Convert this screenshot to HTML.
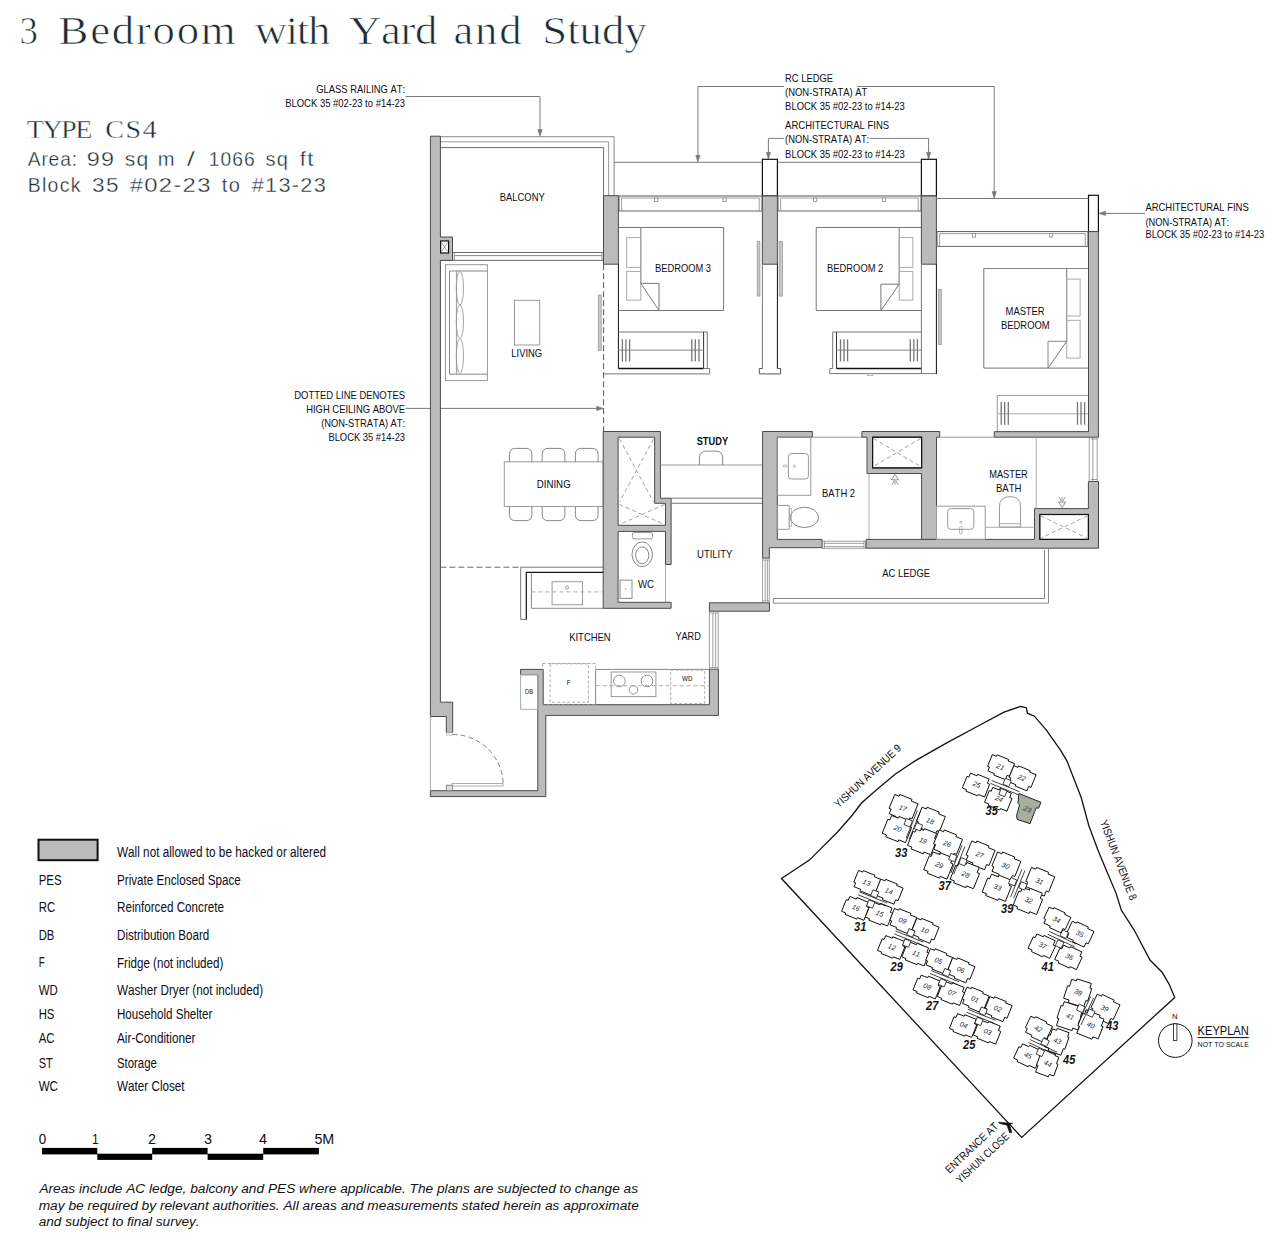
<!DOCTYPE html>
<html><head><meta charset="utf-8"><title>3 Bedroom with Yard and Study</title>
<style>
html,body{margin:0;padding:0;background:#fff;}
body{width:1283px;height:1253px;overflow:hidden;}
svg{display:block;}
text{font-kerning:none;}
</style></head>
<body>
<svg width="1283" height="1253" viewBox="0 0 1283 1253">
<rect x="0" y="0" width="1283" height="1253" fill="#ffffff"/>
<text x="19.5" y="44.2" font-family="Liberation Serif" font-size="40" textLength="18.4" lengthAdjust="spacingAndGlyphs" fill="#1c2c33" stroke="#fff" stroke-width="0.7">3</text>
<g transform="translate(58.60,44.20) scale(1.120,1)">
<text x="0.0" y="0.0" font-family="Liberation Serif" font-size="40" fill="#1c2c33" letter-spacing="1.54" stroke="#fff" stroke-width="0.7">Bedroom</text>
</g>
<g transform="translate(254.70,44.20) scale(1.120,1)">
<text x="0.0" y="0.0" font-family="Liberation Serif" font-size="40" fill="#1c2c33" letter-spacing="-1.18" stroke="#fff" stroke-width="0.7">with</text>
</g>
<g transform="translate(349.10,44.20) scale(1.120,1)">
<text x="0.0" y="0.0" font-family="Liberation Serif" font-size="40" fill="#1c2c33" letter-spacing="-0.38" stroke="#fff" stroke-width="0.7">Yard</text>
</g>
<g transform="translate(453.50,44.20) scale(1.120,1)">
<text x="0.0" y="0.0" font-family="Liberation Serif" font-size="40" fill="#1c2c33" letter-spacing="1.52" stroke="#fff" stroke-width="0.7">and</text>
</g>
<g transform="translate(542.20,44.20) scale(1.120,1)">
<text x="0.0" y="0.0" font-family="Liberation Serif" font-size="40" fill="#1c2c33" letter-spacing="0.03" stroke="#fff" stroke-width="0.7">Study</text>
</g>
<g transform="translate(26.80,138.10) scale(1.100,1)">
<text x="0.0" y="0.0" font-family="Liberation Serif" font-size="25.5" fill="#1c2c33" letter-spacing="-1.40" stroke="#fff" stroke-width="0.4">TYPE</text>
</g>
<g transform="translate(105.30,138.10) scale(1.100,1)">
<text x="0.0" y="0.0" font-family="Liberation Serif" font-size="25.5" fill="#1c2c33" letter-spacing="1.40" stroke="#fff" stroke-width="0.4">CS4</text>
</g>
<g transform="translate(27.70,165.60) scale(0.950,1)">
<text x="0.0" y="0.0" font-family="Liberation Sans" font-size="20.3" fill="#1c2c33" letter-spacing="0.87" stroke="#fff" stroke-width="0.35">Area:</text>
</g>
<g transform="translate(86.70,165.60) scale(1.156,1)">
<text x="0.0" y="0.0" font-family="Liberation Sans" font-size="20.3" fill="#1c2c33" letter-spacing="1.12" stroke="#fff" stroke-width="0.35">99</text>
</g>
<g transform="translate(124.70,165.60) scale(1.045,1)">
<text x="0.0" y="0.0" font-family="Liberation Sans" font-size="20.3" fill="#1c2c33" letter-spacing="1.24" stroke="#fff" stroke-width="0.35">sq</text>
</g>
<text x="157.8" y="165.6" font-family="Liberation Sans" font-size="20.3" textLength="16.8" lengthAdjust="spacingAndGlyphs" fill="#1c2c33" stroke="#fff" stroke-width="0.35">m</text>
<text x="186.8" y="165.6" font-family="Liberation Sans" font-size="20.3" textLength="8.1" lengthAdjust="spacingAndGlyphs" fill="#1c2c33" stroke="#fff" stroke-width="0.35">/</text>
<g transform="translate(208.70,165.60) scale(0.950,1)">
<text x="0.0" y="0.0" font-family="Liberation Sans" font-size="20.3" fill="#1c2c33" letter-spacing="1.12" stroke="#fff" stroke-width="0.35">1066</text>
</g>
<g transform="translate(265.40,165.60) scale(0.984,1)">
<text x="0.0" y="0.0" font-family="Liberation Sans" font-size="20.3" fill="#1c2c33" letter-spacing="1.32" stroke="#fff" stroke-width="0.35">sq</text>
</g>
<g transform="translate(299.70,165.60) scale(1.099,1)">
<text x="0.0" y="0.0" font-family="Liberation Sans" font-size="20.3" fill="#1c2c33" letter-spacing="1.18" stroke="#fff" stroke-width="0.35">ft</text>
</g>
<g transform="translate(27.70,192.40) scale(0.958,1)">
<text x="0.0" y="0.0" font-family="Liberation Sans" font-size="20.3" fill="#1c2c33" letter-spacing="1.36" stroke="#fff" stroke-width="0.35">Block</text>
</g>
<g transform="translate(92.10,192.40) scale(1.112,1)">
<text x="0.0" y="0.0" font-family="Liberation Sans" font-size="20.3" fill="#1c2c33" letter-spacing="1.17" stroke="#fff" stroke-width="0.35">35</text>
</g>
<g transform="translate(129.70,192.40) scale(1.175,1)">
<text x="0.0" y="0.0" font-family="Liberation Sans" font-size="20.3" fill="#1c2c33" letter-spacing="1.11" stroke="#fff" stroke-width="0.35">#02-23</text>
</g>
<g transform="translate(221.80,192.40) scale(0.986,1)">
<text x="0.0" y="0.0" font-family="Liberation Sans" font-size="20.3" fill="#1c2c33" letter-spacing="1.32" stroke="#fff" stroke-width="0.35">to</text>
</g>
<g transform="translate(251.70,192.40) scale(1.071,1)">
<text x="0.0" y="0.0" font-family="Liberation Sans" font-size="20.3" fill="#1c2c33" letter-spacing="1.21" stroke="#fff" stroke-width="0.35">#13-23</text>
</g>
<text x="316.3" y="93.0" font-family="Liberation Sans" font-size="11" textLength="88.8" lengthAdjust="spacingAndGlyphs" fill="#0d0d18">GLASS RAILING AT:</text>
<text x="285.2" y="106.6" font-family="Liberation Sans" font-size="11" textLength="119.9" lengthAdjust="spacingAndGlyphs" fill="#0d0d18">BLOCK 35 #02-23 to #14-23</text>
<line x1="405.5" y1="96.5" x2="540.0" y2="96.5" stroke="#7a7a7a" stroke-width="1"/>
<line x1="540.0" y1="96.5" x2="540.0" y2="130.0" stroke="#7a7a7a" stroke-width="1"/>
<polygon points="540.0,136.5 537.8,129.5 542.2,129.5" fill="#777" stroke="#777" stroke-width="0.5"/>
<text x="785.1" y="81.8" font-family="Liberation Sans" font-size="11" textLength="47.9" lengthAdjust="spacingAndGlyphs" fill="#0d0d18">RC LEDGE</text>
<text x="785.1" y="95.9" font-family="Liberation Sans" font-size="11" textLength="82.2" lengthAdjust="spacingAndGlyphs" fill="#0d0d18">(NON-STRATA) AT</text>
<text x="785.1" y="109.9" font-family="Liberation Sans" font-size="11" textLength="119.6" lengthAdjust="spacingAndGlyphs" fill="#0d0d18">BLOCK 35 #02-23 to #14-23</text>
<line x1="697.9" y1="86.5" x2="784.0" y2="86.5" stroke="#7a7a7a" stroke-width="1"/>
<line x1="857.0" y1="86.5" x2="994.2" y2="86.5" stroke="#7a7a7a" stroke-width="1"/>
<line x1="697.9" y1="86.5" x2="697.9" y2="156.0" stroke="#7a7a7a" stroke-width="1"/>
<polygon points="697.9,162.3 695.7,155.3 700.1,155.3" fill="#777" stroke="#777" stroke-width="0.5"/>
<line x1="994.2" y1="86.5" x2="994.2" y2="192.0" stroke="#7a7a7a" stroke-width="1"/>
<polygon points="994.2,198.5 992.0,191.5 996.4,191.5" fill="#777" stroke="#777" stroke-width="0.5"/>
<text x="785.1" y="129.4" font-family="Liberation Sans" font-size="11" textLength="104.0" lengthAdjust="spacingAndGlyphs" fill="#0d0d18">ARCHITECTURAL FINS</text>
<text x="785.1" y="143.4" font-family="Liberation Sans" font-size="11" textLength="84.1" lengthAdjust="spacingAndGlyphs" fill="#0d0d18">(NON-STRATA) AT:</text>
<text x="785.1" y="157.9" font-family="Liberation Sans" font-size="11" textLength="119.6" lengthAdjust="spacingAndGlyphs" fill="#0d0d18">BLOCK 35 #02-23 to #14-23</text>
<line x1="768.4" y1="138.4" x2="784.0" y2="138.4" stroke="#7a7a7a" stroke-width="1"/>
<line x1="869.5" y1="138.4" x2="928.6" y2="138.4" stroke="#7a7a7a" stroke-width="1"/>
<line x1="768.4" y1="138.4" x2="768.4" y2="153.0" stroke="#7a7a7a" stroke-width="1"/>
<polygon points="768.4,159.3 766.2,152.3 770.6,152.3" fill="#777" stroke="#777" stroke-width="0.5"/>
<line x1="928.6" y1="138.4" x2="928.6" y2="153.0" stroke="#7a7a7a" stroke-width="1"/>
<polygon points="928.6,159.3 926.4,152.3 930.8,152.3" fill="#777" stroke="#777" stroke-width="0.5"/>
<text x="1145.4" y="211.2" font-family="Liberation Sans" font-size="11" textLength="103.3" lengthAdjust="spacingAndGlyphs" fill="#0d0d18">ARCHITECTURAL FINS</text>
<text x="1145.4" y="225.8" font-family="Liberation Sans" font-size="11" textLength="83.7" lengthAdjust="spacingAndGlyphs" fill="#0d0d18">(NON-STRATA) AT:</text>
<text x="1145.4" y="238.3" font-family="Liberation Sans" font-size="11" textLength="118.8" lengthAdjust="spacingAndGlyphs" fill="#0d0d18">BLOCK 35 #02-23 to #14-23</text>
<line x1="1105.0" y1="213.4" x2="1145.0" y2="213.4" stroke="#7a7a7a" stroke-width="1"/>
<polygon points="1098.6,213.4 1105.6,211.2 1105.6,215.6" fill="#777" stroke="#777" stroke-width="0.5"/>
<text x="294.3" y="398.7" font-family="Liberation Sans" font-size="11" textLength="110.8" lengthAdjust="spacingAndGlyphs" fill="#0d0d18">DOTTED LINE DENOTES</text>
<text x="306.2" y="412.7" font-family="Liberation Sans" font-size="11" textLength="98.9" lengthAdjust="spacingAndGlyphs" fill="#0d0d18">HIGH CEILING ABOVE</text>
<text x="321.2" y="426.8" font-family="Liberation Sans" font-size="11" textLength="83.9" lengthAdjust="spacingAndGlyphs" fill="#0d0d18">(NON-STRATA) AT:</text>
<text x="328.4" y="440.5" font-family="Liberation Sans" font-size="11" textLength="76.7" lengthAdjust="spacingAndGlyphs" fill="#0d0d18">BLOCK 35 #14-23</text>
<line x1="405.5" y1="408.4" x2="597.0" y2="408.4" stroke="#7a7a7a" stroke-width="1"/>
<polygon points="603.6,408.4 596.6,406.2 596.6,410.6" fill="#777" stroke="#777" stroke-width="0.5"/>
<polyline points="440.4,136.7 614.1,136.7 614.1,195.7" fill="none" stroke="#8a8a8a" stroke-width="1"/>
<polyline points="440.4,141.8 608.6,141.8 608.6,195.7" fill="none" stroke="#9a9a9a" stroke-width="1"/>
<polyline points="440.4,147.6 603.6,147.6 603.6,195.7" fill="none" stroke="#6a6a6a" stroke-width="1"/>
<line x1="452.5" y1="252.5" x2="603.5" y2="252.5" stroke="#6a6a6a" stroke-width="1"/>
<line x1="454.3" y1="255.6" x2="602.0" y2="255.6" stroke="#8a8a8a" stroke-width="1"/>
<line x1="440.4" y1="260.4" x2="603.5" y2="260.4" stroke="#6a6a6a" stroke-width="1"/>
<line x1="454.3" y1="252.5" x2="454.3" y2="260.4" stroke="#8a8a8a" stroke-width="1"/>
<line x1="602.0" y1="252.5" x2="602.0" y2="260.4" stroke="#8a8a8a" stroke-width="1"/>
<text x="499.8" y="201.0" font-family="Liberation Sans" font-size="11.5" textLength="44.9" lengthAdjust="spacingAndGlyphs" fill="#0d0d18">BALCONY</text>
<path d="M430.4 136.2 L440.4 136.2 L440.4 237.0 L452.5 237.0 L452.5 260.4 L440.4 260.4 L440.4 702.2 L452.7 702.2 L452.7 732.5 L446.3 732.5 L446.3 716.5 L430.4 716.5 Z" fill="#bbbbbb" stroke="#4a4a4a" stroke-width="1" fill-rule="evenodd"/>
<rect x="440.6" y="241.0" width="8.0" height="12.0" fill="#fff" stroke="#111" stroke-width="1.2"/>
<line x1="441.6" y1="242.5" x2="447.6" y2="251.5" stroke="#777" stroke-width="0.7"/>
<line x1="447.6" y1="242.5" x2="441.6" y2="251.5" stroke="#777" stroke-width="0.7"/>
<path d="M603.5 195.7 L618.4 195.7 L618.4 264.2 L603.5 264.2 Z" fill="#bbbbbb" stroke="#4a4a4a" stroke-width="1" fill-rule="evenodd"/>
<rect x="762.4" y="159.3" width="15.0" height="36.7" fill="#fff" stroke="#111" stroke-width="1.2"/>
<path d="M762.4 196.0 L777.4 196.0 L777.4 264.2 L762.4 264.2 Z" fill="#bbbbbb" stroke="#4a4a4a" stroke-width="1" fill-rule="evenodd"/>
<rect x="921.4" y="159.3" width="15.0" height="36.7" fill="#fff" stroke="#111" stroke-width="1.2"/>
<path d="M921.4 196.0 L936.4 196.0 L936.4 264.2 L921.4 264.2 Z" fill="#bbbbbb" stroke="#4a4a4a" stroke-width="1" fill-rule="evenodd"/>
<rect x="1088.5" y="195.3" width="9.9" height="36.3" fill="#fff" stroke="#111" stroke-width="1.2"/>
<line x1="614.1" y1="162.3" x2="762.4" y2="162.3" stroke="#7a7a7a" stroke-width="1"/>
<line x1="777.4" y1="162.3" x2="921.4" y2="162.3" stroke="#7a7a7a" stroke-width="1"/>
<line x1="936.4" y1="198.5" x2="1088.5" y2="198.5" stroke="#7a7a7a" stroke-width="1"/>
<line x1="618.4" y1="196.0" x2="762.4" y2="196.0" stroke="#555" stroke-width="1"/>
<line x1="621.4" y1="198.0" x2="759.4" y2="198.0" stroke="#888" stroke-width="0.8"/>
<line x1="618.4" y1="211.0" x2="762.4" y2="211.0" stroke="#666" stroke-width="1"/>
<line x1="619.4" y1="196.0" x2="619.4" y2="211.0" stroke="#888" stroke-width="0.8"/>
<line x1="621.6" y1="198.0" x2="621.6" y2="211.0" stroke="#888" stroke-width="0.8"/>
<line x1="761.4" y1="196.0" x2="761.4" y2="211.0" stroke="#888" stroke-width="0.8"/>
<line x1="759.2" y1="198.0" x2="759.2" y2="211.0" stroke="#888" stroke-width="0.8"/>
<rect x="654.6" y="198.0" width="3.2" height="3.5" fill="#fff" stroke="#888" stroke-width="0.8"/>
<rect x="723.0" y="198.0" width="3.2" height="3.5" fill="#fff" stroke="#888" stroke-width="0.8"/>
<line x1="777.4" y1="196.0" x2="921.4" y2="196.0" stroke="#555" stroke-width="1"/>
<line x1="780.4" y1="198.0" x2="918.4" y2="198.0" stroke="#888" stroke-width="0.8"/>
<line x1="777.4" y1="211.0" x2="921.4" y2="211.0" stroke="#666" stroke-width="1"/>
<line x1="778.4" y1="196.0" x2="778.4" y2="211.0" stroke="#888" stroke-width="0.8"/>
<line x1="780.6" y1="198.0" x2="780.6" y2="211.0" stroke="#888" stroke-width="0.8"/>
<line x1="920.4" y1="196.0" x2="920.4" y2="211.0" stroke="#888" stroke-width="0.8"/>
<line x1="918.2" y1="198.0" x2="918.2" y2="211.0" stroke="#888" stroke-width="0.8"/>
<rect x="813.5" y="198.0" width="3.2" height="3.5" fill="#fff" stroke="#888" stroke-width="0.8"/>
<rect x="882.5" y="198.0" width="3.2" height="3.5" fill="#fff" stroke="#888" stroke-width="0.8"/>
<line x1="936.4" y1="231.6" x2="1088.5" y2="231.6" stroke="#555" stroke-width="1"/>
<line x1="939.4" y1="233.6" x2="1085.5" y2="233.6" stroke="#888" stroke-width="0.8"/>
<line x1="936.4" y1="246.4" x2="1088.5" y2="246.4" stroke="#666" stroke-width="1"/>
<line x1="937.4" y1="231.6" x2="937.4" y2="246.4" stroke="#888" stroke-width="0.8"/>
<line x1="939.6" y1="233.6" x2="939.6" y2="246.4" stroke="#888" stroke-width="0.8"/>
<line x1="1087.5" y1="231.6" x2="1087.5" y2="246.4" stroke="#888" stroke-width="0.8"/>
<line x1="1085.3" y1="233.6" x2="1085.3" y2="246.4" stroke="#888" stroke-width="0.8"/>
<rect x="972.4" y="233.6" width="3.2" height="3.5" fill="#fff" stroke="#888" stroke-width="0.8"/>
<rect x="1049.4" y="233.6" width="3.2" height="3.5" fill="#fff" stroke="#888" stroke-width="0.8"/>
<line x1="618.4" y1="264.2" x2="618.4" y2="368.5" stroke="#111" stroke-width="1"/>
<polyline points="618.4,227.5 723.6,227.5 723.6,310.5 618.4,310.5" fill="none" stroke="#777" stroke-width="1"/>
<line x1="640.8" y1="227.5" x2="640.8" y2="283.4" stroke="#777" stroke-width="1"/>
<rect x="626.7" y="237.6" width="14.1" height="29.8" fill="none" stroke="#aaa" stroke-width="1"/>
<rect x="626.7" y="271.4" width="14.1" height="28.7" fill="none" stroke="#aaa" stroke-width="1"/>
<polyline points="640.8,283.4 659.0,283.4 659.0,310.5" fill="none" stroke="#777" stroke-width="1"/>
<line x1="640.8" y1="283.4" x2="659.0" y2="310.5" stroke="#777" stroke-width="1"/>
<text x="655.1" y="271.7" font-family="Liberation Sans" font-size="11.2" textLength="55.9" lengthAdjust="spacingAndGlyphs" fill="#0d0d18">BEDROOM 3</text>
<polyline points="618.4,332.0 707.3,332.0 707.3,368.5" fill="none" stroke="#777" stroke-width="1"/>
<line x1="703.6" y1="332.0" x2="703.6" y2="368.5" stroke="#333" stroke-width="1"/>
<line x1="618.4" y1="350.1" x2="703.6" y2="350.1" stroke="#888" stroke-width="1"/>
<line x1="618.4" y1="368.5" x2="703.6" y2="368.5" stroke="#111" stroke-width="1.3"/>
<line x1="622.4" y1="339.3" x2="622.4" y2="361.5" stroke="#777" stroke-width="1.3"/>
<line x1="625.9" y1="339.3" x2="625.9" y2="361.5" stroke="#777" stroke-width="1.3"/>
<line x1="629.6" y1="339.3" x2="629.6" y2="361.5" stroke="#777" stroke-width="1.3"/>
<line x1="691.8" y1="339.3" x2="691.8" y2="361.5" stroke="#777" stroke-width="1.3"/>
<line x1="695.3" y1="339.3" x2="695.3" y2="361.5" stroke="#777" stroke-width="1.3"/>
<line x1="699.0" y1="339.3" x2="699.0" y2="361.5" stroke="#777" stroke-width="1.3"/>
<polyline points="703.6,368.5 709.7,368.5 709.7,373.9 603.6,373.9" fill="none" stroke="#777" stroke-width="1"/>
<rect x="598.3" y="295.0" width="2.9" height="55.4" fill="#c8c8c8" stroke="#999" stroke-width="0.8"/>
<line x1="762.4" y1="264.2" x2="762.4" y2="368.5" stroke="#777" stroke-width="1"/>
<line x1="777.4" y1="264.2" x2="777.4" y2="368.5" stroke="#111" stroke-width="1"/>
<polyline points="762.4,368.5 759.3,368.5 759.3,373.9 780.6,373.9 780.6,368.5 777.4,368.5" fill="none" stroke="#555" stroke-width="1"/>
<rect x="757.2" y="241.4" width="2.7" height="54.7" fill="#c8c8c8" stroke="#999" stroke-width="0.8"/>
<rect x="779.2" y="241.4" width="3.2" height="54.7" fill="#c8c8c8" stroke="#999" stroke-width="0.8"/>
<polyline points="921.4,227.5 816.2,227.5 816.2,310.5 921.4,310.5" fill="none" stroke="#777" stroke-width="1"/>
<line x1="899.2" y1="227.5" x2="899.2" y2="284.2" stroke="#777" stroke-width="1"/>
<rect x="899.2" y="237.6" width="13.6" height="29.8" fill="none" stroke="#aaa" stroke-width="1"/>
<rect x="899.2" y="271.4" width="13.6" height="28.7" fill="none" stroke="#aaa" stroke-width="1"/>
<polyline points="899.2,284.2 880.9,284.2 880.9,310.5" fill="none" stroke="#777" stroke-width="1"/>
<line x1="899.2" y1="284.2" x2="880.9" y2="310.5" stroke="#777" stroke-width="1"/>
<text x="827.1" y="271.7" font-family="Liberation Sans" font-size="11.2" textLength="56.2" lengthAdjust="spacingAndGlyphs" fill="#0d0d18">BEDROOM 2</text>
<polyline points="921.3,332.0 832.7,332.0 832.7,368.5" fill="none" stroke="#777" stroke-width="1"/>
<line x1="836.5" y1="332.0" x2="836.5" y2="368.5" stroke="#333" stroke-width="1"/>
<line x1="836.5" y1="350.1" x2="921.3" y2="350.1" stroke="#888" stroke-width="1"/>
<line x1="836.5" y1="368.5" x2="921.3" y2="368.5" stroke="#111" stroke-width="1.3"/>
<line x1="840.5" y1="339.3" x2="840.5" y2="361.5" stroke="#777" stroke-width="1.3"/>
<line x1="844.0" y1="339.3" x2="844.0" y2="361.5" stroke="#777" stroke-width="1.3"/>
<line x1="847.6" y1="339.3" x2="847.6" y2="361.5" stroke="#777" stroke-width="1.3"/>
<line x1="910.3" y1="339.3" x2="910.3" y2="361.5" stroke="#777" stroke-width="1.3"/>
<line x1="913.8" y1="339.3" x2="913.8" y2="361.5" stroke="#777" stroke-width="1.3"/>
<line x1="917.4" y1="339.3" x2="917.4" y2="361.5" stroke="#777" stroke-width="1.3"/>
<polyline points="832.7,368.5 829.8,368.5 829.8,373.6 936.4,373.6" fill="none" stroke="#777" stroke-width="1"/>
<rect x="867.3" y="373.6" width="5.6" height="2.0" fill="none" stroke="#999" stroke-width="0.7"/>
<line x1="921.4" y1="264.2" x2="921.4" y2="373.6" stroke="#777" stroke-width="1"/>
<line x1="936.4" y1="264.2" x2="936.4" y2="374.0" stroke="#111" stroke-width="1"/>
<rect x="938.3" y="289.3" width="3.0" height="55.2" fill="#c8c8c8" stroke="#999" stroke-width="0.8"/>
<line x1="983.8" y1="268.5" x2="1088.5" y2="268.5" stroke="#888" stroke-width="1"/>
<line x1="983.8" y1="368.1" x2="1088.5" y2="368.1" stroke="#777" stroke-width="1"/>
<line x1="983.8" y1="268.5" x2="983.8" y2="368.1" stroke="#777" stroke-width="1"/>
<line x1="1066.7" y1="268.5" x2="1066.7" y2="341.3" stroke="#777" stroke-width="1"/>
<rect x="1066.7" y="279.1" width="13.4" height="36.9" fill="none" stroke="#aaa" stroke-width="1"/>
<rect x="1066.7" y="320.3" width="13.4" height="37.8" fill="none" stroke="#aaa" stroke-width="1"/>
<polyline points="1066.7,341.3 1048.0,341.3 1048.0,368.1" fill="none" stroke="#888" stroke-width="1"/>
<line x1="1066.7" y1="341.3" x2="1048.0" y2="368.1" stroke="#777" stroke-width="1"/>
<text x="1005.6" y="314.8" font-family="Liberation Sans" font-size="11.2" textLength="39.0" lengthAdjust="spacingAndGlyphs" fill="#0d0d18">MASTER</text>
<text x="1000.9" y="328.5" font-family="Liberation Sans" font-size="11.2" textLength="48.8" lengthAdjust="spacingAndGlyphs" fill="#0d0d18">BEDROOM</text>
<rect x="997.3" y="395.4" width="91.2" height="36.3" fill="none" stroke="#999" stroke-width="1"/>
<line x1="997.3" y1="413.8" x2="1088.5" y2="413.8" stroke="#aaa" stroke-width="1"/>
<line x1="1001.2" y1="402.1" x2="1001.2" y2="424.7" stroke="#777" stroke-width="1.3"/>
<line x1="1004.7" y1="402.1" x2="1004.7" y2="424.7" stroke="#777" stroke-width="1.3"/>
<line x1="1008.3" y1="402.1" x2="1008.3" y2="424.7" stroke="#777" stroke-width="1.3"/>
<line x1="1077.5" y1="402.1" x2="1077.5" y2="424.7" stroke="#777" stroke-width="1.3"/>
<line x1="1081.0" y1="402.1" x2="1081.0" y2="424.7" stroke="#777" stroke-width="1.3"/>
<line x1="1084.6" y1="402.1" x2="1084.6" y2="424.7" stroke="#777" stroke-width="1.3"/>
<path d="M1088.5 231.6 L1098.4 231.6 L1098.4 437.2 L994.3 437.2 L994.3 431.7 L1088.5 431.7 Z" fill="#bbbbbb" stroke="#4a4a4a" stroke-width="1" fill-rule="evenodd"/>
<line x1="603.6" y1="264.2" x2="603.6" y2="431.5" stroke="#555" stroke-width="1" stroke-dasharray="6,3"/>
<rect x="445.5" y="264.7" width="41.9" height="115.9" fill="none" stroke="#999" stroke-width="1"/>
<polyline points="487.4,271.0 449.5,271.0 449.5,374.2 487.4,374.2" fill="none" stroke="#888" stroke-width="1"/>
<line x1="456.4" y1="271.0" x2="456.4" y2="374.2" stroke="#999" stroke-width="1"/>
<ellipse cx="459.9" cy="288.2" rx="3.6" ry="16.8" fill="none" stroke="#999" stroke-width="0.9"/>
<ellipse cx="459.9" cy="321.8" rx="3.6" ry="16.8" fill="none" stroke="#999" stroke-width="0.9"/>
<ellipse cx="459.9" cy="356.1" rx="3.6" ry="17.5" fill="none" stroke="#999" stroke-width="0.9"/>
<rect x="514.5" y="300.3" width="25.2" height="44.7" fill="none" stroke="#999" stroke-width="1"/>
<text x="511.3" y="356.6" font-family="Liberation Sans" font-size="11.2" textLength="30.8" lengthAdjust="spacingAndGlyphs" fill="#0d0d18">LIVING</text>
<rect x="504.3" y="461.8" width="98.9" height="44.7" fill="none" stroke="#999" stroke-width="1"/>
<path d="M509.5 461.8 V454.4 Q509.5 448.4 515.5 448.4 H525.9 Q531.9 448.4 531.9 454.4 V461.8" fill="none" stroke="#888" stroke-width="1"/>
<path d="M509.5 506.5 V514.6 Q509.5 520.6 515.5 520.6 H525.9 Q531.9 520.6 531.9 514.6 V506.5" fill="none" stroke="#888" stroke-width="1"/>
<path d="M542.2 461.8 V454.4 Q542.2 448.4 548.2 448.4 H558.9 Q564.9 448.4 564.9 454.4 V461.8" fill="none" stroke="#888" stroke-width="1"/>
<path d="M542.2 506.5 V514.6 Q542.2 520.6 548.2 520.6 H558.9 Q564.9 520.6 564.9 514.6 V506.5" fill="none" stroke="#888" stroke-width="1"/>
<path d="M575.4 461.8 V454.4 Q575.4 448.4 581.4 448.4 H592.1 Q598.1 448.4 598.1 454.4 V461.8" fill="none" stroke="#888" stroke-width="1"/>
<path d="M575.4 506.5 V514.6 Q575.4 520.6 581.4 520.6 H592.1 Q598.1 520.6 598.1 514.6 V506.5" fill="none" stroke="#888" stroke-width="1"/>
<text x="536.7" y="487.8" font-family="Liberation Sans" font-size="11.2" textLength="34.0" lengthAdjust="spacingAndGlyphs" fill="#0d0d18">DINING</text>
<path d="M603.2 431.5 L660.4 431.5 L660.4 498.2 L671.1 498.2 L671.1 564.5 L665.5 564.5 L665.5 531.4 L618.1 531.4 L618.1 602.3 L671.1 602.3 L671.1 608.3 L603.2 608.3 Z M618.1 437.2 L654.7 437.2 L654.7 503.3 L665.5 503.3 L665.5 525.3 L618.1 525.3 Z" fill="#bbbbbb" stroke="#4a4a4a" stroke-width="1" fill-rule="evenodd"/>
<line x1="619.5" y1="439.0" x2="653.5" y2="502.0" stroke="#888" stroke-width="0.8" stroke-dasharray="4,3"/>
<line x1="653.5" y1="439.0" x2="619.5" y2="502.0" stroke="#888" stroke-width="0.8" stroke-dasharray="4,3"/>
<line x1="619.5" y1="504.5" x2="664.5" y2="524.5" stroke="#888" stroke-width="0.8" stroke-dasharray="4,3"/>
<line x1="664.5" y1="504.5" x2="619.5" y2="524.5" stroke="#888" stroke-width="0.8" stroke-dasharray="4,3"/>
<rect x="632.4" y="532.5" width="20.0" height="6.4" rx="1.5" fill="none" stroke="#999" stroke-width="1"/>
<ellipse cx="642.2" cy="554.3" rx="10.2" ry="12.4" fill="none" stroke="#888" stroke-width="1"/>
<ellipse cx="642.2" cy="555.3" rx="6.6" ry="8.4" fill="none" stroke="#888" stroke-width="1"/>
<rect x="620.1" y="580.1" width="11.9" height="18.3" fill="none" stroke="#888" stroke-width="1"/>
<circle cx="625.6" cy="589.0" r="0.6" fill="#555"/>
<line x1="665.5" y1="564.5" x2="665.5" y2="602.3" stroke="#999" stroke-width="0.8"/>
<text x="638.0" y="587.6" font-family="Liberation Sans" font-size="11.2" textLength="16.0" lengthAdjust="spacingAndGlyphs" fill="#0d0d18">WC</text>
<line x1="660.4" y1="465.0" x2="762.6" y2="465.0" stroke="#999" stroke-width="1"/>
<path d="M699.4 465 V458 Q699.4 451.1 706.4 451.1 H715.7 Q722.7 451.1 722.7 458 V465" fill="none" stroke="#888" stroke-width="1"/>
<line x1="671.1" y1="498.2" x2="762.6" y2="498.2" stroke="#777" stroke-width="1"/>
<line x1="671.1" y1="503.3" x2="762.6" y2="503.3" stroke="#777" stroke-width="1"/>
<text x="696.7" y="444.7" font-family="Liberation Sans" font-size="11.2" font-weight="bold" textLength="31.4" lengthAdjust="spacingAndGlyphs" fill="#0d0d18">STUDY</text>
<path d="M762.6 431.5 L812.4 431.5 L812.4 437.2 L777.3 437.2 L777.3 539.4 L822.0 539.4 L822.0 547.7 L769.3 547.7 L769.3 558.1 L762.6 558.1 Z" fill="#bbbbbb" stroke="#4a4a4a" stroke-width="1" fill-rule="evenodd"/>
<line x1="812.4" y1="437.2" x2="861.9" y2="437.2" stroke="#999" stroke-width="1"/>
<rect x="777.3" y="437.2" width="33.5" height="58.1" fill="none" stroke="#999" stroke-width="1"/>
<rect x="788.4" y="453.5" width="20.0" height="25.5" rx="3" fill="none" stroke="#999" stroke-width="1"/>
<rect x="783.0" y="465.0" width="4.0" height="2.0" rx="1" fill="none" stroke="#999" stroke-width="0.7"/>
<circle cx="794.6" cy="466.2" r="1.2" fill="none" stroke="#999" stroke-width="0.7"/>
<rect x="777.6" y="505.4" width="11.6" height="23.9" fill="none" stroke="#999" stroke-width="1"/>
<ellipse cx="804.4" cy="517.4" rx="14.2" ry="10.1" fill="none" stroke="#888" stroke-width="1"/>
<rect x="789.2" y="508.5" width="2.3" height="18.0" fill="none" stroke="#aaa" stroke-width="0.7"/>
<text x="822.0" y="497.0" font-family="Liberation Sans" font-size="11.2" textLength="33.1" lengthAdjust="spacingAndGlyphs" fill="#0d0d18">BATH 2</text>
<line x1="822.0" y1="541.2" x2="866.2" y2="541.2" stroke="#888" stroke-width="0.8"/>
<line x1="824.5" y1="543.3" x2="864.0" y2="543.3" stroke="#888" stroke-width="0.8"/>
<line x1="824.5" y1="546.6" x2="864.0" y2="546.6" stroke="#888" stroke-width="0.8"/>
<line x1="822.0" y1="548.3" x2="866.2" y2="548.3" stroke="#888" stroke-width="0.8"/>
<line x1="822.8" y1="541.2" x2="822.8" y2="548.3" stroke="#888" stroke-width="0.8"/>
<line x1="824.5" y1="541.2" x2="824.5" y2="548.3" stroke="#888" stroke-width="0.8"/>
<line x1="864.0" y1="541.2" x2="864.0" y2="548.3" stroke="#888" stroke-width="0.8"/>
<line x1="865.6" y1="541.2" x2="865.6" y2="548.3" stroke="#888" stroke-width="0.8"/>
<path d="M861.9 431.5 L939.7 431.5 L939.7 437.2 L936.5 437.2 L936.5 539.4 L921.6 539.4 L921.6 473.5 L867.0 473.5 L867.0 437.2 L861.9 437.2 Z M872.6 437.2 L921.6 437.2 L921.6 467.9 L872.6 467.9 Z" fill="#bbbbbb" stroke="#4a4a4a" stroke-width="1" fill-rule="evenodd"/>
<rect x="872.6" y="437.2" width="49.0" height="30.7" fill="none" stroke="#111" stroke-width="1.2"/>
<line x1="873.5" y1="438.5" x2="920.5" y2="466.5" stroke="#888" stroke-width="0.8" stroke-dasharray="4,3"/>
<line x1="920.5" y1="438.5" x2="873.5" y2="466.5" stroke="#888" stroke-width="0.8" stroke-dasharray="4,3"/>
<line x1="869.0" y1="473.5" x2="869.0" y2="539.4" stroke="#999" stroke-width="0.8"/>
<polygon points="891.4,479.8 898.6,479.8 895.0,474.3" fill="none" stroke="#777" stroke-width="0.8"/>
<line x1="894.2" y1="480.6" x2="892.0" y2="484.8" stroke="#777" stroke-width="0.7"/>
<line x1="895.0" y1="480.6" x2="895.0" y2="484.8" stroke="#777" stroke-width="0.7"/>
<line x1="895.8" y1="480.6" x2="898.0" y2="484.8" stroke="#777" stroke-width="0.7"/>
<path d="M866.2 539.4 L1034.5 539.4 L1034.5 508.6 L1088.4 508.6 L1088.4 481.5 L1098.5 481.5 L1098.5 548.2 L866.2 548.2 Z M1039.8 514.5 L1088.4 514.5 L1088.4 539.4 L1039.8 539.4 Z" fill="#bbbbbb" stroke="#4a4a4a" stroke-width="1" fill-rule="evenodd"/>
<rect x="1039.8" y="514.5" width="48.6" height="24.9" fill="none" stroke="#111" stroke-width="1.2"/>
<line x1="1041.0" y1="516.0" x2="1087.0" y2="538.0" stroke="#888" stroke-width="0.8" stroke-dasharray="4,3"/>
<line x1="1087.0" y1="516.0" x2="1041.0" y2="538.0" stroke="#888" stroke-width="0.8" stroke-dasharray="4,3"/>
<polygon points="1058.5,502.0 1065.7,502.0 1062.1,507.5" fill="none" stroke="#777" stroke-width="0.8"/>
<line x1="1061.3" y1="501.2" x2="1059.1" y2="497.0" stroke="#777" stroke-width="0.7"/>
<line x1="1062.1" y1="501.2" x2="1062.1" y2="497.0" stroke="#777" stroke-width="0.7"/>
<line x1="1062.8" y1="501.2" x2="1065.1" y2="497.0" stroke="#777" stroke-width="0.7"/>
<line x1="1036.2" y1="437.2" x2="1036.2" y2="508.6" stroke="#999" stroke-width="0.8"/>
<line x1="1089.2" y1="437.2" x2="1089.2" y2="481.5" stroke="#888" stroke-width="0.8"/>
<line x1="1092.9" y1="437.2" x2="1092.9" y2="481.5" stroke="#888" stroke-width="0.8"/>
<line x1="1097.2" y1="437.2" x2="1097.2" y2="481.5" stroke="#888" stroke-width="0.8"/>
<line x1="1091.0" y1="439.0" x2="1097.2" y2="439.0" stroke="#888" stroke-width="0.8"/>
<line x1="1091.0" y1="479.5" x2="1097.2" y2="479.5" stroke="#888" stroke-width="0.8"/>
<line x1="939.7" y1="437.2" x2="994.3" y2="437.2" stroke="#999" stroke-width="1"/>
<rect x="936.5" y="506.2" width="48.7" height="33.2" fill="none" stroke="#999" stroke-width="1"/>
<rect x="947.7" y="508.6" width="26.1" height="20.7" rx="3" fill="none" stroke="#999" stroke-width="1"/>
<circle cx="960.8" cy="522.2" r="1.1" fill="none" stroke="#999" stroke-width="0.7"/>
<rect x="959.6" y="526.5" width="2.4" height="7.5" rx="1" fill="none" stroke="#999" stroke-width="0.7"/>
<line x1="985.2" y1="527.3" x2="1034.5" y2="527.3" stroke="#aaa" stroke-width="1"/>
<path d="M999.4 527 V507 Q999.4 496.6 1010 496.6 Q1020.6 496.6 1020.6 507 V527 Z" fill="none" stroke="#999" stroke-width="1"/>
<line x1="999.4" y1="523.7" x2="1020.6" y2="523.7" stroke="#aaa" stroke-width="1"/>
<text x="989.2" y="477.8" font-family="Liberation Sans" font-size="11.2" textLength="38.6" lengthAdjust="spacingAndGlyphs" fill="#0d0d18">MASTER</text>
<text x="995.9" y="491.8" font-family="Liberation Sans" font-size="11.2" textLength="25.5" lengthAdjust="spacingAndGlyphs" fill="#0d0d18">BATH</text>
<polyline points="773.3,598.5 1044.5,598.5 1044.5,550.0" fill="none" stroke="#888" stroke-width="1"/>
<polyline points="773.3,603.2 1048.5,603.2 1048.5,548.2" fill="none" stroke="#888" stroke-width="1"/>
<line x1="773.3" y1="598.5" x2="773.3" y2="603.2" stroke="#888" stroke-width="1"/>
<text x="882.2" y="576.9" font-family="Liberation Sans" font-size="11.2" textLength="47.9" lengthAdjust="spacingAndGlyphs" fill="#0d0d18">AC LEDGE</text>
<text x="697.1" y="557.6" font-family="Liberation Sans" font-size="11.2" textLength="35.2" lengthAdjust="spacingAndGlyphs" fill="#0d0d18">UTILITY</text>
<line x1="762.6" y1="558.1" x2="762.6" y2="602.8" stroke="#888" stroke-width="0.8"/>
<line x1="765.2" y1="560.0" x2="765.2" y2="601.0" stroke="#888" stroke-width="0.8"/>
<line x1="767.4" y1="560.0" x2="767.4" y2="601.0" stroke="#888" stroke-width="0.8"/>
<line x1="769.3" y1="558.1" x2="769.3" y2="602.8" stroke="#888" stroke-width="0.8"/>
<line x1="762.6" y1="560.0" x2="769.3" y2="560.0" stroke="#888" stroke-width="0.8"/>
<line x1="762.6" y1="601.0" x2="769.3" y2="601.0" stroke="#888" stroke-width="0.8"/>
<path d="M709.4 602.8 L769.4 602.8 L769.4 611.2 L709.4 611.2 Z" fill="#bbbbbb" stroke="#4a4a4a" stroke-width="1" fill-rule="evenodd"/>
<line x1="709.4" y1="611.2" x2="709.4" y2="669.2" stroke="#888" stroke-width="0.8"/>
<line x1="712.8" y1="613.0" x2="712.8" y2="667.5" stroke="#888" stroke-width="0.8"/>
<line x1="715.6" y1="613.0" x2="715.6" y2="667.5" stroke="#888" stroke-width="0.8"/>
<line x1="718.2" y1="611.2" x2="718.2" y2="669.2" stroke="#888" stroke-width="0.8"/>
<line x1="709.4" y1="613.0" x2="718.2" y2="613.0" stroke="#888" stroke-width="0.8"/>
<line x1="709.4" y1="667.5" x2="718.2" y2="667.5" stroke="#888" stroke-width="0.8"/>
<text x="675.4" y="640.0" font-family="Liberation Sans" font-size="11.2" textLength="25.4" lengthAdjust="spacingAndGlyphs" fill="#0d0d18">YARD</text>
<line x1="440.4" y1="567.2" x2="520.7" y2="567.2" stroke="#666" stroke-width="1" stroke-dasharray="6,3"/>
<polyline points="603.2,567.2 520.7,567.2 520.7,619.5 526.3,619.5" fill="none" stroke="#777" stroke-width="1"/>
<polyline points="603.2,572.4 526.3,572.4 526.3,619.5" fill="none" stroke="#111" stroke-width="1.2"/>
<polyline points="531.4,572.4 531.4,608.3 603.2,608.3" fill="none" stroke="#888" stroke-width="1"/>
<rect x="552.1" y="581.7" width="30.4" height="23.1" fill="none" stroke="#999" stroke-width="1"/>
<circle cx="567.0" cy="587.6" r="1.6" fill="none" stroke="#888" stroke-width="0.8"/>
<line x1="531.4" y1="591.9" x2="603.2" y2="591.9" stroke="#aaa" stroke-width="1" stroke-dasharray="4,3"/>
<text x="569.2" y="640.7" font-family="Liberation Sans" font-size="11.2" textLength="41.5" lengthAdjust="spacingAndGlyphs" fill="#0d0d18">KITCHEN</text>
<path d="M520.6 669.4 L543.2 669.4 L543.2 704.7 L709.4 704.7 L709.4 669.2 L718.4 669.2 L718.4 715.4 L545.8 715.4 L545.8 796.6 L430.4 796.6 L430.4 790.7 L537.8 790.7 L537.8 674.7 L520.6 674.7 Z" fill="#bbbbbb" stroke="#4a4a4a" stroke-width="1" fill-rule="evenodd"/>
<polyline points="595.6,704.7 595.6,669.4 709.4,669.4" fill="none" stroke="#888" stroke-width="1"/>
<rect x="542.6" y="663.5" width="53.0" height="41.2" fill="none" stroke="#999" stroke-width="0.8" stroke-dasharray="3,2"/>
<rect x="550.1" y="663.8" width="38.3" height="38.4" fill="none" stroke="#999" stroke-width="0.8" stroke-dasharray="3,2"/>
<text x="566.8" y="684.6" font-family="Liberation Sans" font-size="8" textLength="4.0" lengthAdjust="spacingAndGlyphs" fill="#0d0d18">F</text>
<rect x="611.2" y="672.0" width="44.7" height="24.6" fill="none" stroke="#999" stroke-width="1"/>
<circle cx="619.4" cy="681.0" r="5.8" fill="none" stroke="#888" stroke-width="0.9"/>
<circle cx="647.0" cy="681.0" r="5.8" fill="none" stroke="#888" stroke-width="0.9"/>
<circle cx="633.5" cy="689.9" r="4.2" fill="none" stroke="#888" stroke-width="0.9"/>
<line x1="595.6" y1="685.7" x2="709.4" y2="685.7" stroke="#aaa" stroke-width="1" stroke-dasharray="4,3"/>
<rect x="670.7" y="670.1" width="34.0" height="33.5" fill="none" stroke="#999" stroke-width="0.8" stroke-dasharray="3,2"/>
<text x="682.1" y="681.0" font-family="Liberation Sans" font-size="7.5" textLength="10.4" lengthAdjust="spacingAndGlyphs" fill="#0d0d18">WD</text>
<rect x="520.6" y="674.7" width="17.2" height="34.6" fill="none" stroke="#aaa" stroke-width="1"/>
<text x="525.0" y="694.2" font-family="Liberation Sans" font-size="7.5" textLength="8.0" lengthAdjust="spacingAndGlyphs" fill="#0d0d18">DB</text>
<line x1="430.4" y1="716.5" x2="430.4" y2="790.7" stroke="#aaa" stroke-width="1"/>
<rect x="451.9" y="783.6" width="51.1" height="2.4" fill="none" stroke="#999" stroke-width="0.8"/>
<path d="M452.7 734.5 A50.5 50.5 0 0 1 503.2 785" fill="none" stroke="#777" stroke-width="0.9" stroke-dasharray="5,3"/>
<rect x="446.3" y="785.2" width="6.4" height="5.5" fill="#ddd" stroke="#777" stroke-width="0.8"/>
<rect x="446.3" y="732.5" width="6.4" height="2.5" fill="#fff" stroke="#999" stroke-width="0.6"/>
<rect x="38.5" y="839.7" width="59.1" height="20.5" fill="#bbbbbb" stroke="#111" stroke-width="2"/>
<text x="117.0" y="856.6" font-family="Liberation Sans" font-size="14" textLength="209.0" lengthAdjust="spacingAndGlyphs" fill="#0d0d18">Wall not allowed to be hacked or altered</text>
<text x="38.7" y="885.1" font-family="Liberation Sans" font-size="14" textLength="22.9" lengthAdjust="spacingAndGlyphs" fill="#0d0d18">PES</text>
<text x="117.0" y="885.1" font-family="Liberation Sans" font-size="14" textLength="123.7" lengthAdjust="spacingAndGlyphs" fill="#0d0d18">Private Enclosed Space</text>
<text x="38.7" y="912.1" font-family="Liberation Sans" font-size="14" textLength="16.4" lengthAdjust="spacingAndGlyphs" fill="#0d0d18">RC</text>
<text x="117.0" y="912.1" font-family="Liberation Sans" font-size="14" textLength="107.0" lengthAdjust="spacingAndGlyphs" fill="#0d0d18">Reinforced Concrete</text>
<text x="38.7" y="939.9" font-family="Liberation Sans" font-size="14" textLength="15.7" lengthAdjust="spacingAndGlyphs" fill="#0d0d18">DB</text>
<text x="117.0" y="939.9" font-family="Liberation Sans" font-size="14" textLength="92.3" lengthAdjust="spacingAndGlyphs" fill="#0d0d18">Distribution Board</text>
<text x="38.7" y="966.9" font-family="Liberation Sans" font-size="14" textLength="6.0" lengthAdjust="spacingAndGlyphs" fill="#0d0d18">F</text>
<text x="117.0" y="968.1" font-family="Liberation Sans" font-size="14" textLength="106.3" lengthAdjust="spacingAndGlyphs" fill="#0d0d18">Fridge (not included)</text>
<text x="38.7" y="994.7" font-family="Liberation Sans" font-size="14" textLength="19.1" lengthAdjust="spacingAndGlyphs" fill="#0d0d18">WD</text>
<text x="117.0" y="994.7" font-family="Liberation Sans" font-size="14" textLength="146.1" lengthAdjust="spacingAndGlyphs" fill="#0d0d18">Washer Dryer (not included)</text>
<text x="38.7" y="1018.9" font-family="Liberation Sans" font-size="14" textLength="15.7" lengthAdjust="spacingAndGlyphs" fill="#0d0d18">HS</text>
<text x="117.0" y="1018.9" font-family="Liberation Sans" font-size="14" textLength="95.4" lengthAdjust="spacingAndGlyphs" fill="#0d0d18">Household Shelter</text>
<text x="38.7" y="1043.0" font-family="Liberation Sans" font-size="14" textLength="15.9" lengthAdjust="spacingAndGlyphs" fill="#0d0d18">AC</text>
<text x="117.0" y="1043.0" font-family="Liberation Sans" font-size="14" textLength="78.5" lengthAdjust="spacingAndGlyphs" fill="#0d0d18">Air-Conditioner</text>
<text x="38.7" y="1067.7" font-family="Liberation Sans" font-size="14" textLength="14.0" lengthAdjust="spacingAndGlyphs" fill="#0d0d18">ST</text>
<text x="117.0" y="1067.7" font-family="Liberation Sans" font-size="14" textLength="39.8" lengthAdjust="spacingAndGlyphs" fill="#0d0d18">Storage</text>
<text x="38.7" y="1091.3" font-family="Liberation Sans" font-size="14" textLength="19.3" lengthAdjust="spacingAndGlyphs" fill="#0d0d18">WC</text>
<text x="117.0" y="1091.3" font-family="Liberation Sans" font-size="14" textLength="67.6" lengthAdjust="spacingAndGlyphs" fill="#0d0d18">Water Closet</text>
<text x="38.7" y="1143.7" font-family="Liberation Sans" font-size="14" textLength="7.5" lengthAdjust="spacingAndGlyphs" fill="#0d0d18">0</text>
<text x="91.9" y="1143.7" font-family="Liberation Sans" font-size="14" textLength="6.7" lengthAdjust="spacingAndGlyphs" fill="#0d0d18">1</text>
<text x="148.0" y="1143.7" font-family="Liberation Sans" font-size="14" textLength="8.0" lengthAdjust="spacingAndGlyphs" fill="#0d0d18">2</text>
<text x="204.1" y="1143.7" font-family="Liberation Sans" font-size="14" textLength="8.0" lengthAdjust="spacingAndGlyphs" fill="#0d0d18">3</text>
<text x="259.0" y="1143.7" font-family="Liberation Sans" font-size="14" textLength="8.0" lengthAdjust="spacingAndGlyphs" fill="#0d0d18">4</text>
<text x="314.4" y="1143.7" font-family="Liberation Sans" font-size="14" textLength="19.9" lengthAdjust="spacingAndGlyphs" fill="#0d0d18">5M</text>
<rect x="42.0" y="1147.9" width="55.3" height="6.5" fill="#000"/>
<rect x="152.2" y="1147.9" width="55.4" height="6.5" fill="#000"/>
<rect x="263.2" y="1147.9" width="55.7" height="6.5" fill="#000"/>
<rect x="97.3" y="1153.7" width="54.9" height="6.2" fill="#000"/>
<rect x="207.6" y="1153.7" width="55.6" height="6.2" fill="#000"/>
<text x="39.4" y="1193.0" font-family="Liberation Sans" font-size="13.7" font-style="italic" textLength="598.7" lengthAdjust="spacingAndGlyphs" fill="#111">Areas include AC ledge, balcony and PES where applicable. The plans are subjected to change as</text>
<text x="38.7" y="1209.9" font-family="Liberation Sans" font-size="13.7" font-style="italic" textLength="600.1" lengthAdjust="spacingAndGlyphs" fill="#111">may be required by relevant authorities. All areas and measurements stated herein as approximate</text>
<text x="38.7" y="1225.6" font-family="Liberation Sans" font-size="13.7" font-style="italic" textLength="160.9" lengthAdjust="spacingAndGlyphs" fill="#111">and subject to final survey.</text>
<polygon points="781.5,878.5 809.4,860.1 837.8,831.7 852.4,815.0 861.5,803.0 876.9,789.4 895.1,774.3 915.5,760.6 947.2,742.6 977.6,726.3 1004.0,712.2 1020.3,706.5 1026.3,707.7 1027.4,713.2 1034.4,716.2 1046.6,730.4 1060.8,750.7 1066.9,760.8 1081.1,797.3 1088.8,825.5 1097.6,849.2 1106.3,870.2 1116.0,893.1 1121.3,910.0 1134.0,929.8 1150.0,960.0 1162.1,972.2 1169.2,984.3 1174.7,997.5 1021.7,1137.4" fill="none" stroke="#111" stroke-width="1.3"/>
<path d="M998.3 1122.2 L1012.8 1123.3 L1009.6 1124.6 L1011.8 1132.4 L1009.6 1132.8 L1007.0 1125.2 L999.5 1123.4 Z" fill="#111" stroke="#111" stroke-width="0.6"/>
<g transform="translate(838.5,808.5) rotate(-43.1)">
<text x="0.0" y="0.0" font-family="Liberation Sans" font-size="11" textLength="87.0" lengthAdjust="spacingAndGlyphs" fill="#0d0d18">YISHUN AVENUE 9</text>
</g>
<g transform="translate(1099.8,822.0) rotate(69.0)">
<text x="0.0" y="0.0" font-family="Liberation Sans" font-size="11" textLength="84.5" lengthAdjust="spacingAndGlyphs" fill="#0d0d18">YISHUN AVENUE 8</text>
</g>
<g transform="translate(949.5,1174.0) rotate(-43.4)">
<text x="0.0" y="0.0" font-family="Liberation Sans" font-size="11" textLength="68.0" lengthAdjust="spacingAndGlyphs" fill="#0d0d18">ENTRANCE AT</text>
</g>
<g transform="translate(960.5,1184.0) rotate(-43.4)">
<text x="0.0" y="0.0" font-family="Liberation Sans" font-size="11" textLength="68.0" lengthAdjust="spacingAndGlyphs" fill="#0d0d18">YISHUN CLOSE</text>
</g>
<circle cx="1175.3" cy="1040.6" r="16.8" fill="none" stroke="#111" stroke-width="1"/>
<rect x="1173.4" y="1023.8" width="3.5" height="16.8" fill="#fff" stroke="#111" stroke-width="0.8"/>
<text x="1172.0" y="1018.8" font-family="Liberation Sans" font-size="7.5" textLength="5.6" lengthAdjust="spacingAndGlyphs" fill="#0d0d18">N</text>
<text x="1197.6" y="1034.6" font-family="Liberation Sans" font-size="13" textLength="51.2" lengthAdjust="spacingAndGlyphs" fill="#0d0d18">KEYPLAN</text>
<line x1="1197.6" y1="1037.6" x2="1248.8" y2="1037.6" stroke="#111" stroke-width="1"/>
<text x="1197.6" y="1046.7" font-family="Liberation Sans" font-size="8" textLength="51.2" lengthAdjust="spacingAndGlyphs" fill="#0d0d18">NOT TO SCALE</text>
<polygon points="992.3,754.6 996.5,756.3 997.1,754.8 1008.7,759.5 1008.1,761.0 1014.6,763.6 1009.5,776.3 1007.1,775.3 1005.4,779.7 993.8,775.0 994.4,773.6 987.9,770.9 989.5,767.0 987.6,766.3" fill="#fff" stroke="#111" stroke-width="1.0"/>
<text x="1000.3" y="769.1" font-family="Liberation Sans" font-size="7" font-style="italic" text-anchor="middle" fill="#1e2638" transform="rotate(22.0 1000.3 766.9)">21</text>
<polygon points="1013.8,765.7 1018.0,767.4 1018.6,765.9 1030.2,770.6 1029.6,772.1 1036.1,774.7 1031.0,787.4 1028.6,786.4 1026.9,790.8 1015.3,786.1 1015.9,784.7 1009.4,782.0 1011.0,778.1 1009.1,777.4" fill="#fff" stroke="#111" stroke-width="1.0"/>
<text x="1021.8" y="780.2" font-family="Liberation Sans" font-size="7" font-style="italic" text-anchor="middle" fill="#1e2638" transform="rotate(22.0 1021.8 778.0)">22</text>
<polygon points="962.3,788.0 966.5,789.7 965.9,791.1 977.5,795.8 978.1,794.4 984.6,797.0 989.7,784.3 987.4,783.4 989.1,779.0 977.6,774.3 977.0,775.8 970.5,773.2 968.9,777.1 967.0,776.3" fill="#fff" stroke="#111" stroke-width="1.0"/>
<text x="976.6" y="786.9" font-family="Liberation Sans" font-size="7" font-style="italic" text-anchor="middle" fill="#1e2638" transform="rotate(22.0 976.6 784.7)">25</text>
<polygon points="984.6,802.2 988.8,803.9 988.2,805.3 999.8,810.0 1000.4,808.6 1006.9,811.2 1012.0,798.5 1009.7,797.6 1011.4,793.2 999.9,788.5 999.3,790.0 992.8,787.4 991.2,791.3 989.3,790.5" fill="#fff" stroke="#111" stroke-width="1.0"/>
<text x="998.9" y="801.1" font-family="Liberation Sans" font-size="7" font-style="italic" text-anchor="middle" fill="#1e2638" transform="rotate(22.0 998.9 798.9)">24</text>
<polygon points="1018.9,793.5 1041.0,802.3 1038.6,808.2 1036.1,807.9 1030.1,823.7 1017.2,819.4 1016.5,815.9 1019.6,804.7 1017.9,803.3" fill="#a6ae9e" stroke="#111" stroke-width="0.9"/>
<text x="1027.3" y="811.6" font-family="Liberation Sans" font-size="7" font-style="italic" text-anchor="middle" fill="#2a3346" transform="rotate(22.0 1027.3 809.4)">23</text>
<line x1="991.7" y1="780.5" x2="1019.5" y2="791.7" stroke="#111" stroke-width="0.8"/>
<line x1="990.5" y1="783.4" x2="1018.3" y2="794.7" stroke="#111" stroke-width="0.8"/>
<polygon points="1005.3,778.3 1011.2,780.7 1008.8,786.6 1002.9,784.2" fill="#fff" stroke="#111" stroke-width="0.8"/>
<polygon points="1001.2,788.5 1007.1,790.9 1004.7,796.8 998.8,794.4" fill="#fff" stroke="#111" stroke-width="0.8"/>
<text x="985.5" y="815.0" font-family="Liberation Sans" font-size="12.5" font-weight="bold" font-style="italic" textLength="12.3" lengthAdjust="spacingAndGlyphs" fill="#151515">35</text>
<polygon points="894.8,794.4 899.1,796.2 899.8,794.4 912.0,799.4 911.3,801.1 918.1,803.8 912.0,818.9 909.6,817.9 907.5,823.1 895.3,818.2 896.0,816.5 889.2,813.7 891.1,809.1 889.1,808.3" fill="#fff" stroke="#111" stroke-width="1.0"/>
<text x="902.7" y="810.6" font-family="Liberation Sans" font-size="7" font-style="italic" text-anchor="middle" fill="#1e2638" transform="rotate(22.0 902.7 808.4)">17</text>
<polygon points="922.1,807.2 926.4,809.0 927.1,807.2 939.3,812.2 938.6,813.9 945.4,816.6 939.3,831.7 936.9,830.7 934.8,835.9 922.6,831.0 923.3,829.3 916.5,826.5 918.4,821.9 916.4,821.1" fill="#fff" stroke="#111" stroke-width="1.0"/>
<text x="930.0" y="823.4" font-family="Liberation Sans" font-size="7" font-style="italic" text-anchor="middle" fill="#1e2638" transform="rotate(22.0 930.0 821.2)">18</text>
<polygon points="882.2,833.3 886.6,835.0 885.8,836.8 898.0,841.7 898.7,839.9 905.5,842.7 911.6,827.6 909.2,826.6 911.3,821.4 899.1,816.5 898.4,818.2 891.6,815.5 889.7,820.1 887.8,819.3" fill="#fff" stroke="#111" stroke-width="1.0"/>
<text x="897.6" y="830.9" font-family="Liberation Sans" font-size="7" font-style="italic" text-anchor="middle" fill="#1e2638" transform="rotate(22.0 897.6 828.7)">20</text>
<polygon points="907.5,845.4 911.9,847.1 911.1,848.9 923.3,853.8 924.0,852.0 930.8,854.8 936.9,839.7 934.5,838.7 936.6,833.5 924.4,828.6 923.7,830.3 916.9,827.6 915.0,832.2 913.1,831.4" fill="#fff" stroke="#111" stroke-width="1.0"/>
<text x="922.9" y="843.0" font-family="Liberation Sans" font-size="7" font-style="italic" text-anchor="middle" fill="#1e2638" transform="rotate(22.0 922.9 840.8)">19</text>
<line x1="920.4" y1="811.5" x2="909.2" y2="839.3" stroke="#111" stroke-width="0.8"/>
<line x1="917.4" y1="810.3" x2="906.2" y2="838.1" stroke="#111" stroke-width="0.8"/>
<polygon points="916.6,822.7 922.6,825.1 920.2,831.0 914.2,828.6" fill="#fff" stroke="#111" stroke-width="0.8"/>
<polygon points="906.4,818.5 912.4,820.9 910.0,826.9 904.0,824.5" fill="#fff" stroke="#111" stroke-width="0.8"/>
<text x="895.0" y="857.0" font-family="Liberation Sans" font-size="12.5" font-weight="bold" font-style="italic" textLength="12.3" lengthAdjust="spacingAndGlyphs" fill="#151515">33</text>
<polygon points="939.3,829.9 943.6,831.7 944.3,829.9 956.5,834.9 955.8,836.6 962.6,839.3 956.5,854.4 954.1,853.4 952.0,858.6 939.8,853.7 940.5,852.0 933.7,849.2 935.6,844.6 933.6,843.8" fill="#fff" stroke="#111" stroke-width="1.0"/>
<text x="947.2" y="846.1" font-family="Liberation Sans" font-size="7" font-style="italic" text-anchor="middle" fill="#1e2638" transform="rotate(22.0 947.2 843.9)">26</text>
<polygon points="971.8,841.0 976.1,842.8 976.8,841.0 989.0,846.0 988.3,847.7 995.1,850.4 989.0,865.5 986.6,864.5 984.5,869.7 972.3,864.8 973.0,863.1 966.2,860.3 968.1,855.7 966.1,854.9" fill="#fff" stroke="#111" stroke-width="1.0"/>
<text x="979.7" y="857.2" font-family="Liberation Sans" font-size="7" font-style="italic" text-anchor="middle" fill="#1e2638" transform="rotate(22.0 979.7 855.0)">27</text>
<polygon points="923.7,869.7 928.1,871.4 927.3,873.2 939.5,878.1 940.2,876.3 947.0,879.1 953.1,864.0 950.7,863.0 952.8,857.8 940.6,852.9 939.9,854.6 933.1,851.9 931.2,856.5 929.3,855.7" fill="#fff" stroke="#111" stroke-width="1.0"/>
<text x="939.1" y="867.3" font-family="Liberation Sans" font-size="7" font-style="italic" text-anchor="middle" fill="#1e2638" transform="rotate(22.0 939.1 865.1)">29</text>
<polygon points="950.1,879.3 954.5,881.0 953.7,882.8 965.9,887.7 966.6,885.9 973.4,888.7 979.5,873.6 977.1,872.6 979.2,867.4 967.0,862.5 966.3,864.2 959.5,861.5 957.6,866.1 955.7,865.3" fill="#fff" stroke="#111" stroke-width="1.0"/>
<text x="965.5" y="876.9" font-family="Liberation Sans" font-size="7" font-style="italic" text-anchor="middle" fill="#1e2638" transform="rotate(22.0 965.5 874.7)">28</text>
<line x1="965.0" y1="846.4" x2="953.7" y2="874.2" stroke="#111" stroke-width="0.8"/>
<line x1="962.0" y1="845.2" x2="950.8" y2="873.0" stroke="#111" stroke-width="0.8"/>
<polygon points="961.2,857.6 967.1,860.0 964.7,865.9 958.8,863.5" fill="#fff" stroke="#111" stroke-width="0.8"/>
<polygon points="951.0,853.4 956.9,855.8 954.5,861.8 948.6,859.4" fill="#fff" stroke="#111" stroke-width="0.8"/>
<text x="938.5" y="890.0" font-family="Liberation Sans" font-size="12.5" font-weight="bold" font-style="italic" textLength="12.3" lengthAdjust="spacingAndGlyphs" fill="#151515">37</text>
<polygon points="997.6,852.0 1001.9,853.8 1002.6,852.0 1014.8,857.0 1014.1,858.7 1020.9,861.4 1014.8,876.5 1012.4,875.5 1010.3,880.7 998.1,875.8 998.8,874.1 992.0,871.3 993.9,866.7 991.9,865.9" fill="#fff" stroke="#111" stroke-width="1.0"/>
<text x="1005.5" y="868.2" font-family="Liberation Sans" font-size="7" font-style="italic" text-anchor="middle" fill="#1e2638" transform="rotate(22.0 1005.5 866.0)">30</text>
<polygon points="1031.5,867.4 1035.8,869.2 1036.5,867.4 1048.7,872.4 1048.0,874.1 1054.8,876.8 1048.7,891.9 1046.3,890.9 1044.2,896.1 1032.0,891.2 1032.7,889.5 1025.9,886.7 1027.8,882.1 1025.8,881.3" fill="#fff" stroke="#111" stroke-width="1.0"/>
<text x="1039.4" y="883.6" font-family="Liberation Sans" font-size="7" font-style="italic" text-anchor="middle" fill="#1e2638" transform="rotate(22.0 1039.4 881.4)">31</text>
<polygon points="982.1,892.0 986.5,893.7 985.7,895.5 997.9,900.4 998.6,898.6 1005.4,901.4 1011.5,886.3 1009.1,885.3 1011.2,880.1 999.0,875.2 998.3,876.9 991.5,874.2 989.6,878.8 987.7,878.0" fill="#fff" stroke="#111" stroke-width="1.0"/>
<text x="997.5" y="889.6" font-family="Liberation Sans" font-size="7" font-style="italic" text-anchor="middle" fill="#1e2638" transform="rotate(22.0 997.5 887.4)">33</text>
<polygon points="1013.2,905.1 1017.6,906.8 1016.8,908.6 1029.0,913.5 1029.7,911.7 1036.5,914.5 1042.6,899.4 1040.2,898.4 1042.3,893.2 1030.1,888.3 1029.4,890.0 1022.6,887.3 1020.7,891.9 1018.8,891.1" fill="#fff" stroke="#111" stroke-width="1.0"/>
<text x="1028.6" y="902.7" font-family="Liberation Sans" font-size="7" font-style="italic" text-anchor="middle" fill="#1e2638" transform="rotate(22.0 1028.6 900.5)">32</text>
<line x1="1024.9" y1="870.5" x2="1013.6" y2="898.3" stroke="#111" stroke-width="0.8"/>
<line x1="1021.9" y1="869.3" x2="1010.6" y2="897.1" stroke="#111" stroke-width="0.8"/>
<polygon points="1021.1,881.7 1027.0,884.1 1024.6,890.1 1018.7,887.7" fill="#fff" stroke="#111" stroke-width="0.8"/>
<polygon points="1010.9,877.6 1016.8,880.0 1014.4,885.9 1008.5,883.5" fill="#fff" stroke="#111" stroke-width="0.8"/>
<text x="1001.0" y="913.0" font-family="Liberation Sans" font-size="12.5" font-weight="bold" font-style="italic" textLength="12.3" lengthAdjust="spacingAndGlyphs" fill="#151515">39</text>
<polygon points="858.5,870.4 862.7,872.1 863.3,870.6 874.9,875.3 874.3,876.8 880.8,879.4 875.7,892.1 873.3,891.1 871.6,895.5 860.0,890.8 860.6,889.4 854.1,886.7 855.7,882.8 853.8,882.1" fill="#fff" stroke="#111" stroke-width="1.0"/>
<text x="866.5" y="884.9" font-family="Liberation Sans" font-size="7" font-style="italic" text-anchor="middle" fill="#1e2638" transform="rotate(22.0 866.5 882.7)">13</text>
<polygon points="880.8,879.1 885.0,880.8 885.6,879.3 897.2,884.0 896.6,885.5 903.1,888.1 898.0,900.8 895.6,899.8 893.9,904.2 882.3,899.5 882.9,898.1 876.4,895.4 878.0,891.5 876.1,890.8" fill="#fff" stroke="#111" stroke-width="1.0"/>
<text x="888.8" y="893.6" font-family="Liberation Sans" font-size="7" font-style="italic" text-anchor="middle" fill="#1e2638" transform="rotate(22.0 888.8 891.4)">14</text>
<polygon points="841.6,911.3 845.8,913.0 845.2,914.4 856.8,919.1 857.4,917.7 863.9,920.3 869.0,907.6 866.7,906.7 868.4,902.3 856.9,897.6 856.3,899.1 849.8,896.5 848.2,900.4 846.3,899.6" fill="#fff" stroke="#111" stroke-width="1.0"/>
<text x="855.9" y="910.2" font-family="Liberation Sans" font-size="7" font-style="italic" text-anchor="middle" fill="#1e2638" transform="rotate(22.0 855.9 908.0)">16</text>
<polygon points="865.3,917.0 869.5,918.7 868.9,920.1 880.5,924.8 881.1,923.4 887.6,926.0 892.7,913.3 890.4,912.4 892.1,908.0 880.6,903.3 880.0,904.8 873.5,902.2 871.9,906.1 870.0,905.3" fill="#fff" stroke="#111" stroke-width="1.0"/>
<text x="879.6" y="915.9" font-family="Liberation Sans" font-size="7" font-style="italic" text-anchor="middle" fill="#1e2638" transform="rotate(22.0 879.6 913.7)">15</text>
<line x1="859.4" y1="891.8" x2="887.2" y2="903.1" stroke="#111" stroke-width="0.8"/>
<line x1="858.2" y1="894.8" x2="886.0" y2="906.1" stroke="#111" stroke-width="0.8"/>
<polygon points="873.0,889.7 878.9,892.1 876.5,898.0 870.6,895.6" fill="#fff" stroke="#111" stroke-width="0.8"/>
<polygon points="868.9,899.9 874.8,902.3 872.4,908.2 866.5,905.8" fill="#fff" stroke="#111" stroke-width="0.8"/>
<text x="854.0" y="930.5" font-family="Liberation Sans" font-size="12.5" font-weight="bold" font-style="italic" textLength="12.3" lengthAdjust="spacingAndGlyphs" fill="#151515">31</text>
<polygon points="894.5,908.5 898.7,910.2 899.3,908.7 910.9,913.4 910.3,914.9 916.8,917.5 911.7,930.2 909.3,929.2 907.6,933.6 896.0,928.9 896.6,927.5 890.1,924.8 891.7,920.9 889.8,920.2" fill="#fff" stroke="#111" stroke-width="1.0"/>
<text x="902.5" y="923.0" font-family="Liberation Sans" font-size="7" font-style="italic" text-anchor="middle" fill="#1e2638" transform="rotate(22.0 902.5 920.8)">09</text>
<polygon points="916.8,918.2 921.0,919.9 921.6,918.4 933.2,923.1 932.6,924.6 939.1,927.2 934.0,939.9 931.6,938.9 929.9,943.3 918.3,938.6 918.9,937.2 912.4,934.5 914.0,930.6 912.1,929.9" fill="#fff" stroke="#111" stroke-width="1.0"/>
<text x="924.8" y="932.7" font-family="Liberation Sans" font-size="7" font-style="italic" text-anchor="middle" fill="#1e2638" transform="rotate(22.0 924.8 930.5)">10</text>
<polygon points="877.5,950.4 881.7,952.1 881.1,953.5 892.7,958.2 893.3,956.8 899.8,959.4 904.9,946.7 902.6,945.8 904.3,941.4 892.8,936.7 892.2,938.2 885.7,935.6 884.1,939.5 882.2,938.7" fill="#fff" stroke="#111" stroke-width="1.0"/>
<text x="891.8" y="949.3" font-family="Liberation Sans" font-size="7" font-style="italic" text-anchor="middle" fill="#1e2638" transform="rotate(22.0 891.8 947.1)">12</text>
<polygon points="901.8,956.9 906.0,958.6 905.4,960.0 917.0,964.7 917.6,963.3 924.1,965.9 929.2,953.2 926.9,952.3 928.6,947.9 917.1,943.2 916.5,944.7 910.0,942.1 908.4,946.0 906.5,945.2" fill="#fff" stroke="#111" stroke-width="1.0"/>
<text x="916.1" y="955.8" font-family="Liberation Sans" font-size="7" font-style="italic" text-anchor="middle" fill="#1e2638" transform="rotate(22.0 916.1 953.6)">11</text>
<line x1="895.5" y1="930.9" x2="923.3" y2="942.1" stroke="#111" stroke-width="0.8"/>
<line x1="894.3" y1="933.9" x2="922.1" y2="945.1" stroke="#111" stroke-width="0.8"/>
<polygon points="909.1,928.7 915.0,931.1 912.6,937.1 906.7,934.7" fill="#fff" stroke="#111" stroke-width="0.8"/>
<polygon points="905.0,938.9 910.9,941.3 908.5,947.3 902.6,944.9" fill="#fff" stroke="#111" stroke-width="0.8"/>
<text x="890.5" y="971.0" font-family="Liberation Sans" font-size="12.5" font-weight="bold" font-style="italic" textLength="12.3" lengthAdjust="spacingAndGlyphs" fill="#151515">29</text>
<polygon points="930.4,948.6 934.6,950.3 935.2,948.8 946.8,953.5 946.2,955.0 952.7,957.6 947.6,970.3 945.2,969.3 943.5,973.7 931.9,969.0 932.5,967.6 926.0,964.9 927.6,961.0 925.7,960.3" fill="#fff" stroke="#111" stroke-width="1.0"/>
<text x="938.4" y="963.1" font-family="Liberation Sans" font-size="7" font-style="italic" text-anchor="middle" fill="#1e2638" transform="rotate(22.0 938.4 960.9)">05</text>
<polygon points="952.7,957.7 956.9,959.4 957.5,957.9 969.1,962.6 968.5,964.1 975.0,966.7 969.9,979.4 967.5,978.4 965.8,982.8 954.2,978.1 954.8,976.7 948.3,974.0 949.9,970.1 948.0,969.4" fill="#fff" stroke="#111" stroke-width="1.0"/>
<text x="960.7" y="972.2" font-family="Liberation Sans" font-size="7" font-style="italic" text-anchor="middle" fill="#1e2638" transform="rotate(22.0 960.7 970.0)">06</text>
<polygon points="913.0,989.9 917.2,991.6 916.6,993.0 928.2,997.7 928.8,996.3 935.3,998.9 940.4,986.2 938.1,985.3 939.8,980.9 928.3,976.2 927.7,977.7 921.2,975.1 919.6,979.0 917.7,978.2" fill="#fff" stroke="#111" stroke-width="1.0"/>
<text x="927.3" y="988.8" font-family="Liberation Sans" font-size="7" font-style="italic" text-anchor="middle" fill="#1e2638" transform="rotate(22.0 927.3 986.6)">08</text>
<polygon points="937.3,996.4 941.5,998.1 940.9,999.5 952.5,1004.2 953.1,1002.8 959.6,1005.4 964.7,992.7 962.4,991.8 964.1,987.4 952.6,982.7 952.0,984.2 945.5,981.6 943.9,985.5 942.0,984.7" fill="#fff" stroke="#111" stroke-width="1.0"/>
<text x="951.6" y="995.3" font-family="Liberation Sans" font-size="7" font-style="italic" text-anchor="middle" fill="#1e2638" transform="rotate(22.0 951.6 993.1)">07</text>
<line x1="931.2" y1="970.5" x2="959.0" y2="981.8" stroke="#111" stroke-width="0.8"/>
<line x1="930.0" y1="973.5" x2="957.8" y2="984.8" stroke="#111" stroke-width="0.8"/>
<polygon points="944.8,968.4 950.7,970.8 948.3,976.7 942.4,974.3" fill="#fff" stroke="#111" stroke-width="0.8"/>
<polygon points="940.7,978.6 946.6,981.0 944.2,986.9 938.3,984.5" fill="#fff" stroke="#111" stroke-width="0.8"/>
<text x="926.0" y="1010.0" font-family="Liberation Sans" font-size="12.5" font-weight="bold" font-style="italic" textLength="12.3" lengthAdjust="spacingAndGlyphs" fill="#151515">27</text>
<polygon points="966.9,987.1 971.1,988.8 971.7,987.3 983.3,992.0 982.7,993.5 989.2,996.1 984.1,1008.8 981.7,1007.8 980.0,1012.2 968.4,1007.5 969.0,1006.1 962.5,1003.4 964.1,999.5 962.2,998.8" fill="#fff" stroke="#111" stroke-width="1.0"/>
<text x="974.9" y="1001.6" font-family="Liberation Sans" font-size="7" font-style="italic" text-anchor="middle" fill="#1e2638" transform="rotate(22.0 974.9 999.4)">01</text>
<polygon points="989.8,996.6 994.0,998.3 994.6,996.8 1006.2,1001.5 1005.6,1003.0 1012.1,1005.6 1007.0,1018.3 1004.6,1017.3 1002.9,1021.7 991.3,1017.0 991.9,1015.6 985.4,1012.9 987.0,1009.0 985.1,1008.3" fill="#fff" stroke="#111" stroke-width="1.0"/>
<text x="997.8" y="1011.1" font-family="Liberation Sans" font-size="7" font-style="italic" text-anchor="middle" fill="#1e2638" transform="rotate(22.0 997.8 1008.9)">02</text>
<polygon points="949.4,1028.4 953.6,1030.1 953.0,1031.5 964.6,1036.2 965.2,1034.8 971.7,1037.4 976.8,1024.7 974.5,1023.8 976.2,1019.4 964.7,1014.7 964.1,1016.2 957.6,1013.6 956.0,1017.5 954.1,1016.7" fill="#fff" stroke="#111" stroke-width="1.0"/>
<text x="963.7" y="1027.3" font-family="Liberation Sans" font-size="7" font-style="italic" text-anchor="middle" fill="#1e2638" transform="rotate(22.0 963.7 1025.1)">04</text>
<polygon points="973.4,1035.1 977.6,1036.8 977.0,1038.2 988.6,1042.9 989.2,1041.5 995.7,1044.1 1000.8,1031.4 998.5,1030.5 1000.2,1026.1 988.7,1021.4 988.1,1022.9 981.6,1020.3 980.0,1024.2 978.1,1023.4" fill="#fff" stroke="#111" stroke-width="1.0"/>
<text x="987.7" y="1034.0" font-family="Liberation Sans" font-size="7" font-style="italic" text-anchor="middle" fill="#1e2638" transform="rotate(22.0 987.7 1031.8)">03</text>
<line x1="967.7" y1="1009.2" x2="995.5" y2="1020.4" stroke="#111" stroke-width="0.8"/>
<line x1="966.5" y1="1012.2" x2="994.3" y2="1023.4" stroke="#111" stroke-width="0.8"/>
<polygon points="981.3,1007.0 987.3,1009.4 984.9,1015.4 978.9,1013.0" fill="#fff" stroke="#111" stroke-width="0.8"/>
<polygon points="977.2,1017.2 983.1,1019.6 980.7,1025.6 974.8,1023.2" fill="#fff" stroke="#111" stroke-width="0.8"/>
<text x="963.0" y="1049.0" font-family="Liberation Sans" font-size="12.5" font-weight="bold" font-style="italic" textLength="12.3" lengthAdjust="spacingAndGlyphs" fill="#151515">25</text>
<polygon points="1049.2,907.1 1053.3,909.0 1053.9,907.6 1065.2,912.9 1064.6,914.3 1070.9,917.3 1065.2,929.6 1062.9,928.6 1060.9,932.9 1049.6,927.6 1050.2,926.1 1043.9,923.2 1045.7,919.4 1043.8,918.5" fill="#fff" stroke="#111" stroke-width="1.0"/>
<text x="1056.5" y="922.0" font-family="Liberation Sans" font-size="7" font-style="italic" text-anchor="middle" fill="#1e2638" transform="rotate(25.0 1056.5 919.8)">34</text>
<polygon points="1072.3,921.3 1076.4,923.2 1077.0,921.8 1088.3,927.1 1087.7,928.5 1094.0,931.5 1088.3,943.8 1086.0,942.8 1084.0,947.1 1072.7,941.8 1073.3,940.3 1067.0,937.4 1068.8,933.6 1066.9,932.7" fill="#fff" stroke="#111" stroke-width="1.0"/>
<text x="1079.6" y="936.2" font-family="Liberation Sans" font-size="7" font-style="italic" text-anchor="middle" fill="#1e2638" transform="rotate(25.0 1079.6 934.0)">35</text>
<polygon points="1028.0,948.2 1032.1,950.1 1031.4,951.6 1042.7,956.9 1043.4,955.4 1049.7,958.4 1055.5,946.0 1053.2,945.0 1055.2,940.7 1043.9,935.4 1043.2,936.8 1036.9,933.9 1035.1,937.7 1033.3,936.8" fill="#fff" stroke="#111" stroke-width="1.0"/>
<text x="1042.4" y="947.9" font-family="Liberation Sans" font-size="7" font-style="italic" text-anchor="middle" fill="#1e2638" transform="rotate(25.0 1042.4 945.7)">37</text>
<polygon points="1054.7,959.4 1058.8,961.3 1058.1,962.8 1069.4,968.1 1070.1,966.6 1076.4,969.6 1082.2,957.2 1079.9,956.2 1081.9,951.9 1070.6,946.6 1069.9,948.0 1063.6,945.1 1061.8,948.9 1060.0,948.0" fill="#fff" stroke="#111" stroke-width="1.0"/>
<text x="1069.1" y="959.1" font-family="Liberation Sans" font-size="7" font-style="italic" text-anchor="middle" fill="#1e2638" transform="rotate(25.0 1069.1 956.9)">36</text>
<line x1="1049.0" y1="931.3" x2="1076.2" y2="944.0" stroke="#111" stroke-width="0.8"/>
<line x1="1047.6" y1="934.2" x2="1074.8" y2="946.9" stroke="#111" stroke-width="0.8"/>
<polygon points="1062.7,929.9 1068.5,932.6 1065.8,938.4 1060.0,935.7" fill="#fff" stroke="#111" stroke-width="0.8"/>
<polygon points="1058.0,939.8 1063.8,942.5 1061.1,948.3 1055.3,945.6" fill="#fff" stroke="#111" stroke-width="0.8"/>
<text x="1041.5" y="971.0" font-family="Liberation Sans" font-size="12.5" font-weight="bold" font-style="italic" textLength="12.3" lengthAdjust="spacingAndGlyphs" fill="#151515">41</text>
<polygon points="1091.4,983.5 1089.9,988.0 1091.7,988.6 1087.7,1001.1 1085.9,1000.5 1083.6,1007.5 1068.2,1002.5 1069.0,1000.0 1063.6,998.2 1067.7,985.7 1069.5,986.3 1071.7,979.3 1076.5,980.9 1077.1,978.9" fill="#fff" stroke="#111" stroke-width="1.0"/>
<text x="1078.0" y="994.6" font-family="Liberation Sans" font-size="7" font-style="italic" text-anchor="middle" fill="#1e2638" transform="rotate(25.0 1078.0 992.4)">38</text>
<polygon points="1097.2,994.2 1101.5,996.2 1102.3,994.5 1114.2,1000.1 1113.4,1001.8 1120.0,1004.9 1113.2,1019.6 1110.8,1018.5 1108.4,1023.6 1096.5,1018.0 1097.3,1016.3 1090.7,1013.2 1092.8,1008.7 1090.9,1007.8" fill="#fff" stroke="#111" stroke-width="1.0"/>
<text x="1104.4" y="1010.8" font-family="Liberation Sans" font-size="7" font-style="italic" text-anchor="middle" fill="#1e2638" transform="rotate(25.0 1104.4 1008.6)">39</text>
<polygon points="1064.3,1001.6 1062.8,1006.1 1061.0,1005.5 1057.0,1018.0 1058.8,1018.6 1056.5,1025.6 1072.0,1030.6 1072.8,1028.1 1078.1,1029.9 1082.2,1017.4 1080.4,1016.8 1082.7,1009.8 1077.9,1008.3 1078.5,1006.3" fill="#fff" stroke="#111" stroke-width="1.0"/>
<text x="1069.9" y="1018.9" font-family="Liberation Sans" font-size="7" font-style="italic" text-anchor="middle" fill="#1e2638" transform="rotate(25.0 1069.9 1016.7)">41</text>
<polygon points="1086.2,1009.8 1084.5,1014.2 1082.7,1013.4 1077.8,1025.6 1079.6,1026.3 1076.8,1033.1 1091.9,1039.2 1092.9,1036.8 1098.1,1038.9 1103.0,1026.7 1101.3,1026.0 1104.0,1019.2 1099.4,1017.3 1100.2,1015.4" fill="#fff" stroke="#111" stroke-width="1.0"/>
<text x="1090.8" y="1027.4" font-family="Liberation Sans" font-size="7" font-style="italic" text-anchor="middle" fill="#1e2638" transform="rotate(25.0 1090.8 1025.2)">40</text>
<line x1="1093.6" y1="997.8" x2="1080.9" y2="1025.0" stroke="#111" stroke-width="0.8"/>
<line x1="1090.7" y1="996.5" x2="1078.0" y2="1023.6" stroke="#111" stroke-width="0.8"/>
<polygon points="1089.2,1008.8 1095.0,1011.5 1092.3,1017.3 1086.5,1014.6" fill="#fff" stroke="#111" stroke-width="0.8"/>
<polygon points="1079.2,1004.1 1085.0,1006.9 1082.3,1012.7 1076.5,1009.9" fill="#fff" stroke="#111" stroke-width="0.8"/>
<text x="1106.0" y="1030.0" font-family="Liberation Sans" font-size="12.5" font-weight="bold" font-style="italic" textLength="12.3" lengthAdjust="spacingAndGlyphs" fill="#151515">43</text>
<polygon points="1030.8,1016.2 1034.9,1018.1 1035.5,1016.7 1046.8,1022.0 1046.2,1023.4 1052.5,1026.4 1046.8,1038.7 1044.5,1037.7 1042.5,1042.0 1031.2,1036.7 1031.8,1035.2 1025.5,1032.3 1027.3,1028.5 1025.4,1027.6" fill="#fff" stroke="#111" stroke-width="1.0"/>
<text x="1038.1" y="1031.1" font-family="Liberation Sans" font-size="7" font-style="italic" text-anchor="middle" fill="#1e2638" transform="rotate(25.0 1038.1 1028.9)">42</text>
<polygon points="1069.1,1032.7 1067.6,1036.9 1069.0,1037.5 1064.8,1049.2 1063.3,1048.7 1060.9,1055.2 1048.1,1050.6 1048.9,1048.2 1044.5,1046.6 1048.8,1034.9 1050.2,1035.4 1052.6,1028.8 1056.6,1030.3 1057.3,1028.4" fill="#fff" stroke="#111" stroke-width="1.0"/>
<text x="1057.1" y="1043.3" font-family="Liberation Sans" font-size="7" font-style="italic" text-anchor="middle" fill="#1e2638" transform="rotate(25.0 1057.1 1041.1)">43</text>
<polygon points="1013.6,1058.1 1017.7,1060.0 1017.0,1061.5 1028.3,1066.8 1029.0,1065.3 1035.3,1068.3 1041.1,1055.9 1038.8,1054.9 1040.8,1050.6 1029.5,1045.3 1028.8,1046.7 1022.5,1043.8 1020.7,1047.6 1018.9,1046.7" fill="#fff" stroke="#111" stroke-width="1.0"/>
<text x="1028.0" y="1057.8" font-family="Liberation Sans" font-size="7" font-style="italic" text-anchor="middle" fill="#1e2638" transform="rotate(25.0 1028.0 1055.6)">45</text>
<polygon points="1043.8,1049.6 1042.3,1053.8 1040.8,1053.2 1036.5,1065.0 1038.0,1065.5 1035.6,1072.1 1048.4,1076.8 1049.3,1074.4 1053.7,1076.0 1058.0,1064.3 1056.5,1063.8 1058.9,1057.2 1055.0,1055.7 1055.7,1053.9" fill="#fff" stroke="#111" stroke-width="1.0"/>
<text x="1047.6" y="1065.9" font-family="Liberation Sans" font-size="7" font-style="italic" text-anchor="middle" fill="#1e2638" transform="rotate(25.0 1047.6 1063.7)">44</text>
<line x1="1029.8" y1="1039.5" x2="1057.0" y2="1052.2" stroke="#111" stroke-width="0.8"/>
<line x1="1028.4" y1="1042.4" x2="1055.6" y2="1055.1" stroke="#111" stroke-width="0.8"/>
<polygon points="1043.5,1038.1 1049.3,1040.8 1046.6,1046.6 1040.8,1043.9" fill="#fff" stroke="#111" stroke-width="0.8"/>
<polygon points="1038.8,1048.1 1044.6,1050.8 1041.9,1056.6 1036.1,1053.9" fill="#fff" stroke="#111" stroke-width="0.8"/>
<text x="1063.0" y="1064.0" font-family="Liberation Sans" font-size="12.5" font-weight="bold" font-style="italic" textLength="12.3" lengthAdjust="spacingAndGlyphs" fill="#151515">45</text>
</svg>
</body></html>
